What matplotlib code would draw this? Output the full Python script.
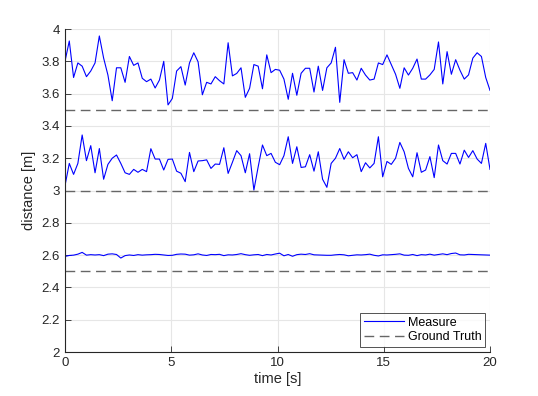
import matplotlib
matplotlib.use("Agg")
import matplotlib.pyplot as plt
import numpy as np

plt.rcParams['font.family'] = ['Liberation Sans', 'DejaVu Sans']

# 100 samples over 20 s
t = np.linspace(0, 20, 100)

meas_top = [3.80, 3.926, 3.70, 3.79, 3.77, 3.705, 3.74, 3.79, 3.957, 3.82,
            3.715, 3.556, 3.76, 3.76, 3.67, 3.83, 3.775, 3.79, 3.695, 3.674,
            3.69, 3.635, 3.684, 3.80, 3.53, 3.57, 3.74, 3.767, 3.653, 3.79,
            3.853, 3.797, 3.593, 3.67, 3.66, 3.705, 3.68, 3.66, 3.915, 3.71,
            3.725, 3.76, 3.577, 3.633, 3.78, 3.77, 3.63, 3.84, 3.73, 3.75,
            3.745, 3.69, 3.565, 3.726, 3.59, 3.726, 3.757, 3.757, 3.61, 3.77,
            3.62, 3.76, 3.79, 3.887, 3.546, 3.81, 3.726, 3.73, 3.684, 3.757,
            3.715, 3.684, 3.69, 3.79, 3.78, 3.84, 3.78, 3.72, 3.633, 3.76,
            3.715, 3.757, 3.814, 3.69, 3.69, 3.716, 3.75, 3.92, 3.66, 3.86,
            3.72, 3.81, 3.745, 3.69, 3.716, 3.82, 3.853, 3.83, 3.70, 3.62]

meas_mid = [3.03, 3.168, 3.10, 3.168, 3.344, 3.185, 3.278, 3.11, 3.26, 3.07,
            3.162, 3.20, 3.22, 3.168, 3.11, 3.10, 3.131, 3.113, 3.131, 3.117,
            3.259, 3.195, 3.195, 3.127, 3.193, 3.195, 3.12, 3.107, 3.055, 3.236,
            3.117, 3.183, 3.185, 3.19, 3.137, 3.164, 3.162, 3.265, 3.106, 3.175,
            3.247, 3.216, 3.11, 3.228, 3.003, 3.147, 3.282, 3.216, 3.23, 3.175,
            3.16, 3.216, 3.333, 3.168, 3.271, 3.143, 3.147, 3.222, 3.12, 3.24,
            3.07, 3.02, 3.168, 3.20, 3.26, 3.193, 3.24, 3.203, 3.222, 3.117,
            3.172, 3.14, 3.168, 3.333, 3.085, 3.18, 3.162, 3.20, 3.298, 3.24,
            3.137, 3.085, 3.234, 3.113, 3.127, 3.21, 3.08, 3.282, 3.185, 3.164,
            3.23, 3.23, 3.164, 3.25, 3.205, 3.247, 3.195, 3.168, 3.292, 3.131]

meas_low = [2.592, 2.598, 2.600, 2.606, 2.617, 2.600, 2.603, 2.601, 2.603, 2.597,
            2.606, 2.608, 2.604, 2.582, 2.597, 2.601, 2.598, 2.603, 2.600, 2.602,
            2.603, 2.605, 2.604, 2.601, 2.598, 2.599, 2.605, 2.607, 2.606, 2.600,
            2.602, 2.608, 2.601, 2.598, 2.604, 2.603, 2.605, 2.597, 2.602, 2.601,
            2.604, 2.609, 2.603, 2.599, 2.602, 2.604, 2.597, 2.604, 2.601, 2.607,
            2.612, 2.596, 2.604, 2.593, 2.603, 2.606, 2.604, 2.609, 2.602, 2.601,
            2.600, 2.599, 2.599, 2.602, 2.604, 2.602, 2.596, 2.599, 2.602, 2.601,
            2.603, 2.606, 2.599, 2.595, 2.602, 2.601, 2.603, 2.605, 2.608, 2.600,
            2.599, 2.604, 2.597, 2.603, 2.601, 2.606, 2.600, 2.604, 2.608, 2.603,
            2.610, 2.613, 2.602, 2.601, 2.605, 2.604, 2.603, 2.602, 2.601, 2.600]

truth = [3.5, 3.0, 2.5]

fig = plt.figure(figsize=(5.38, 3.96), dpi=100)
ax = fig.add_axes([0.1208, 0.111, 0.79, 0.8157])

axc = '#262626'
ax.plot(t, meas_top, color='#0000ff', lw=0.8, label='Measure')
ax.plot(t, meas_mid, color='#0000ff', lw=0.8)
ax.plot(t, meas_low, color='#0000ff', lw=0.8)
for i, g in enumerate(truth):
    ax.plot([t[0], t[-1]], [g, g], color='#666666', lw=1.0, dashes=(7, 4),
            label='Ground Truth' if i == 0 else None)

ax.set_xlim(0, 20)
ax.set_ylim(2, 4)
ax.set_xticks([0, 5, 10, 15, 20])
ax.set_yticks(np.arange(2, 4.01, 0.2))
ax.set_yticklabels(['2', '2.2', '2.4', '2.6', '2.8', '3', '3.2', '3.4', '3.6', '3.8', '4'])
ax.grid(True, color='#e6e6e6', lw=0.8)
ax.set_axisbelow(True)
ax.spines['top'].set_visible(False)
ax.spines['right'].set_visible(False)
ax.spines['left'].set_color(axc)
ax.spines['bottom'].set_color(axc)
ax.tick_params(direction='in', length=4, width=0.6, colors=axc, labelsize=9.5)
ax.set_xlabel('time [s]', fontsize=10.5, color=axc, labelpad=2)
ax.set_ylabel('distance [m]', fontsize=10.5, color=axc, labelpad=4)

leg = ax.legend(loc='lower right', fontsize=9, frameon=True, fancybox=False,
                handlelength=3.2, borderpad=0.3, labelspacing=0.2,
                handletextpad=0.3, borderaxespad=0.4)
leg.get_frame().set_edgecolor(axc)
leg.get_frame().set_linewidth(0.7)

fig.savefig('out.png', dpi=100)
